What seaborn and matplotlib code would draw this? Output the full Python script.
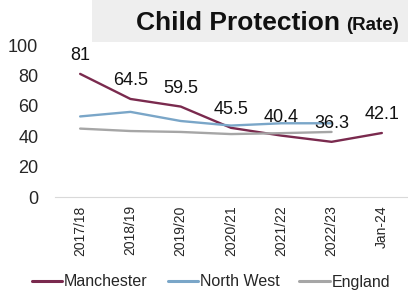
import matplotlib
import matplotlib.pyplot as plt
import pandas as pd
import seaborn as sns
from matplotlib.patches import Rectangle

matplotlib.use("Agg")

# --- Data ---
periods = ["2017/18", "2018/19", "2019/20", "2020/21", "2021/22", "2022/23", "Jan-24"]
manchester = [81, 64.5, 59.5, 45.5, 40.4, 36.3, 42.1]
north_west = [53, 56, 50, 47, 48.5, 48.5, None]
england = [45, 43.4, 42.8, 41.4, 42, 42.8, None]

series_names = ["Manchester", "North West", "England"]
colours = {"Manchester": "#7a2a4e", "North West": "#7aa6c8", "England": "#a6a6a6"}

rows = []
for name, vals in zip(series_names, [manchester, north_west, england]):
    for i, v in enumerate(vals):
        if v is not None:
            rows.append({"pos": i, "value": v, "series": name})
df = pd.DataFrame(rows)

sns.set_theme(style="white")
plt.rcParams["font.family"] = ["Liberation Sans", "DejaVu Sans"]

fig = plt.figure(figsize=(4.08, 2.96), dpi=100)
ax = fig.add_axes([55 / 408, 99 / 296, 352 / 408, 152 / 296])

sns.lineplot(data=df, x="pos", y="value", hue="series", hue_order=series_names,
             palette=colours, linewidth=1.7, ax=ax, legend=False)

# data labels on Manchester
for i, v in enumerate(manchester):
    ax.annotate(f"{v:g}", (i, v), xytext=(0, 13), textcoords="offset points",
                ha="center", va="center", fontsize=13, color="#111111")

ax.set_xlim(-0.5, 6.5)
ax.set_ylim(0, 100)
ax.set_yticks(range(0, 101, 20))
ax.set_xticks(range(len(periods)))
ax.set_xticklabels(periods, rotation=90)
ax.tick_params(axis="y", labelsize=13, length=0, pad=12)
ax.tick_params(axis="x", labelsize=10, length=0, pad=6)
ax.set_xlabel("")
ax.set_ylabel("")
for s in ["top", "right", "left"]:
    ax.spines[s].set_visible(False)
ax.spines["bottom"].set_color("#d9d9d9")
ax.spines["bottom"].set_linewidth(0.8)

# title box
fig.patches.append(Rectangle((92 / 408, 1 - 42 / 296), 316 / 408, 42 / 296,
                             transform=fig.transFigure, facecolor="#eeeeee",
                             edgecolor="none", zorder=0))
fig.text(340 / 408, 1 - 30 / 296, "Child Protection", fontsize=19, fontweight="bold",
         ha="right", va="baseline", color="#111111")
fig.text(346 / 408, 1 - 30 / 296, "(Rate)", fontsize=13.5, fontweight="bold",
         ha="left", va="baseline", color="#111111")

handles = [plt.Line2D([], [], color=colours[n], linewidth=2.2) for n in series_names]
fig.legend(handles, series_names, loc="center", bbox_to_anchor=(211 / 408, 1 - 282 / 296),
           ncol=3, frameon=False, fontsize=11.5, handlelength=1.9, handletextpad=0.1,
           columnspacing=1.25)

fig.savefig("out.png", dpi=100)
